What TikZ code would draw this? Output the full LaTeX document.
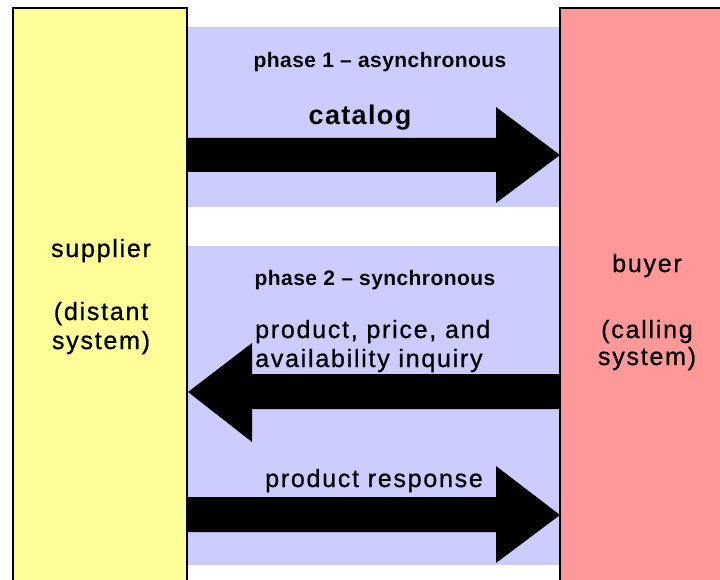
\documentclass[tikz,border=0pt]{standalone}
\usepackage{fontspec}
\setmainfont{Liberation Sans}
\newfontfamily\heavyfont[FakeBold=0.8,LetterSpace=7]{Liberation Sans}
\newfontfamily\phasefont[LetterSpace=2]{Liberation Sans Bold}
\newfontfamily\catfont[LetterSpace=5]{Liberation Sans Bold}
\definecolor{supyellow}{HTML}{FFFF99}
\definecolor{buypink}{HTML}{FF9999}
\definecolor{bandblue}{HTML}{CCCCFF}
\begin{document}
\begin{tikzpicture}[x=1pt,y=-1pt,
  sysbox/.style={draw=black,line width=2pt},
  band/.style={fill=bandblue,draw=none},
  blockarrow/.style={fill=black,draw=none},
  phasetxt/.style={inner sep=0pt,anchor=base,font=\phasefont\fontsize{21}{24}\selectfont},
  bigtxt/.style={inner sep=0pt,anchor=base,font=\heavyfont\fontsize{25}{30}\selectfont},
  leftbig/.style={inner sep=0pt,anchor=base west,font=\heavyfont\fontsize{25}{30}\selectfont}]
\useasboundingbox (0,0) rectangle (720,580);
\fill[white] (0,0) rectangle (720,580);
% bands
\path[band] (187,27) rectangle (560,207);
\path[band] (187,246) rectangle (560,565);
% system boxes
\draw[sysbox,fill=supyellow] (13,8) rectangle (187,600);
\draw[sysbox,fill=buypink] (560,8) rectangle (740,600);
% block arrows
\fill[blockarrow] (187,138) -- (496,138) -- (496,107) -- (560,155) -- (496,203) -- (496,172) -- (187,172) -- cycle;
\fill[blockarrow] (560,374) -- (252,374) -- (252,343) -- (188,392) -- (252,442) -- (252,409) -- (560,409) -- cycle;
\fill[blockarrow] (187,497) -- (496,497) -- (496,466) -- (560,515) -- (496,563) -- (496,532) -- (187,532) -- cycle;
% texts
\node[phasetxt] (p1) at (380,68) {phase 1 – asynchronous};
\node[inner sep=0pt,anchor=base,font=\catfont\fontsize{27}{30}\selectfont] (cat) at (360,125) {catalog};
\node[phasetxt] (p2) at (375,285) {phase 2 – synchronous};
\node[leftbig] (inq1) at (255,338) {product, price, and};
\node[leftbig] (inq2) at (255,367) {availability inquiry};
\node[leftbig] (resp) at (265,487) {product response};
\node[bigtxt] (sup1) at (101,257) {supplier};
\node[bigtxt] (sup2) at (101,320) {(distant};
\node[bigtxt] (sup3) at (101,349) {system)};
\node[bigtxt] (buy1) at (647,272) {buyer};
\node[bigtxt] (buy2) at (647,338) {(calling};
\node[bigtxt] (buy3) at (647,365) {system)};
\end{tikzpicture}
\end{document}
